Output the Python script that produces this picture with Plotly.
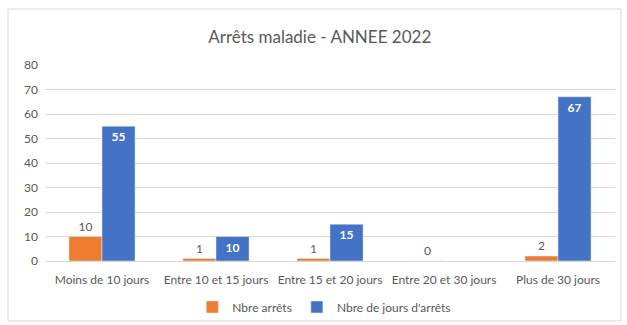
import plotly.graph_objects as go

categories = ["Moins de 10 jours", "Entre 10 et 15 jours", "Entre 15 et 20 jours",
              "Entre 20 et 30 jours", "Plus de 30 jours"]
nbre_arrets = [10, 1, 1, 0, 2]
nbre_jours = [55, 10, 15, None, 67]

ORANGE = "#ED7D31"
BLUE = "#4472C4"
GRAY = "#595959"
FONT = "Lato, Open Sans, sans-serif"

fig = go.Figure()
fig.add_trace(go.Bar(
    x=categories, y=nbre_arrets, name="Nbre arrêts",
    marker_color=ORANGE,
    text=[str(v) for v in nbre_arrets], textposition="outside",
    textfont=dict(color=GRAY, size=12, family=FONT),
    cliponaxis=False,
))
fig.add_trace(go.Bar(
    x=categories, y=nbre_jours, name="Nbre de jours d'arrêts",
    marker_color=BLUE,
    text=["" if v is None else f"<b>{v}</b>" for v in nbre_jours],
    textposition="inside", insidetextanchor="end",
    textfont=dict(color="white", size=12, family=FONT),
))

L, R, T, B = 45, 12, 65, 64
W, H = 627, 325
pw = W - L - R
ph = H - T - B

def px_x(x):
    return (x - L) / pw

def px_y(y):
    return (H - B - y) / ph

fig.update_layout(
    width=W, height=H,
    margin=dict(l=L, r=R, t=T, b=B, autoexpand=False),
    paper_bgcolor="white", plot_bgcolor="white",
    font=dict(family=FONT, color=GRAY, size=12),
    title=dict(text="Arrêts maladie - ANNEE 2022", x=0.51, xanchor="center",
               y=1 - 37 / H, yanchor="middle",
               font=dict(size=17, color=GRAY, family=FONT)),
    barmode="group", bargap=0.42, bargroupgap=0,
    showlegend=True,
    legend=dict(orientation="h", x=0.49, xanchor="center", y=px_y(307), yanchor="middle",
                font=dict(size=12, color=GRAY), itemwidth=30,
                bgcolor="rgba(0,0,0,0)", traceorder="normal"),
    uniformtext=dict(mode="show", minsize=12),
    shapes=[dict(type="rect", xref="paper", yref="paper",
                 x0=px_x(8), x1=px_x(621), y0=px_y(321), y1=px_y(9),
                 line=dict(color="#D9D9D9", width=1), layer="below")],
)
fig.update_yaxes(range=[0, 80], dtick=10, showgrid=True, gridcolor="#D9D9D9",
                 zeroline=False, tickfont=dict(size=12, color=GRAY), ticks="",
                 showline=False, ticklabelstandoff=6)
fig.update_xaxes(showline=True, linecolor="#D9D9D9", tickfont=dict(size=12, color=GRAY),
                 ticks="", ticklabelstandoff=8)

fig.write_html("out.html")
